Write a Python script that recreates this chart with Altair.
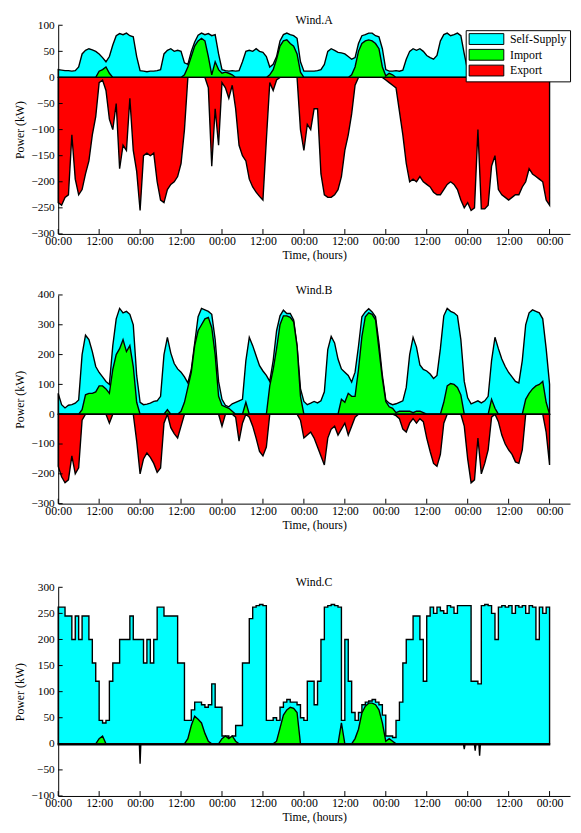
import altair as alt
import pandas as pd

# ---------------- data (hourly, 0..144 h) ----------------
hours = list(range(145))
tick_hours = list(range(0, 145, 12))
tick_labels = ["00:00", "12:00"]
series_names = ["Self-Supply", "Import", "Export"]
series_colors = ["#00FFFF", "#00FF00", "#FF0000"]

# Wind.A
a_load = ([15,14,13,13,12,13,20,45,52,55,53,50,45,38,30,40,62,80,84,82,85,80,78,40] +
          [13,12,11,12,12,13,15,45,52,55,50,52,50,28,25,50,68,81,85,82,84,80,82,45] +
          [15,13,12,13,12,13,30,50,52,50,55,50,48,40,20,25,40,70,82,85,82,80,75,30] +
          [12,12,12,12,13,15,25,50,55,52,48,47,45,40,35,38,65,80,82,85,85,80,78,55] +
          [15,12,12,13,12,14,35,50,55,52,55,50,42,38,35,42,70,82,85,80,82,85,80,45] +
          [13,13,12,12,12,13,30,50,52,55,50,48,42,38,40,70,82,85,80,82,78,60,30,15,12])
a_import = ([0,0,0,0,0,0,0,0,0,0,0,0,12,15,20,8,0,0,0,0,0,0,0,0] +
            [0,0,0,0,0,0,0,0,0,0,0,0,0,5,20,40,60,70,75,70,40,5,30,15] +
            [8,10,8,5,0,0,0,0,0,0,0,0,0,0,5,15,35,60,70,72,65,60,45,10] +
            [0,0,0,0,0,0,0,0,0,0,0,0,0,0,5,20,50,65,70,72,70,65,55,20] +
            [3,8,5,0,0,0,0,0,0,0,0,0,0,0,0,0,0,0,0,0,0,0,0,0] +
            [0,0,0,0,0,0,0,0,0,0,0,0,0,0,0,0,0,0,0,0,0,0,0,0,0])
a_export = ([-240,-245,-230,-225,-110,-195,-225,-215,-185,-160,-110,-75,-10,-5,-25,-80,-100,-50,-175,-130,-140,-40,-140,-180] +
            [-255,-150,-145,-150,-145,-200,-235,-240,-215,-205,-200,-190,-165,-100,0,0,0,0,0,0,-20,-170,-60,-130] +
            [-10,-20,-40,-15,-60,-130,-150,-160,-195,-210,-220,-228,-235,-120,-10,-25,-5,0,0,0,0,0,0,-100] +
            [-140,-90,-100,-60,-60,-185,-225,-230,-230,-225,-215,-190,-140,-110,-70,-15,0,0,0,0,0,0,0,0] +
            [-5,-10,-15,-20,-65,-110,-165,-200,-195,-200,-190,-200,-205,-210,-220,-225,-225,-215,-205,-200,-205,-215,-235,-250] +
            [-240,-255,-250,-100,-252,-252,-245,-170,-150,-215,-225,-230,-235,-230,-225,-225,-210,-200,-175,-185,-190,-195,-200,-235,-245])

# Wind.B
b_load = ([70,32,21,30,32,37,48,200,265,250,210,160,140,125,110,100,230,320,355,340,345,335,300,130] +
          [40,32,34,37,43,45,60,200,258,205,170,152,141,125,105,150,239,327,355,350,345,335,250,110] +
          [50,30,25,35,40,45,50,180,258,230,196,163,145,130,110,180,280,330,349,338,338,316,230,86] +
          [43,32,37,43,38,45,75,217,261,239,185,152,141,130,108,141,228,327,343,354,343,327,239,130] +
          [48,37,32,35,40,45,90,200,258,225,165,150,145,135,120,130,220,330,355,345,340,330,250,110] +
          [55,35,40,45,38,45,60,180,258,220,185,160,140,125,110,105,180,300,340,350,345,340,320,220,100])
b_import = ([0,0,0,0,0,0,0,15,65,70,70,75,95,95,85,70,150,200,220,250,210,230,160,40] +
            [0,0,0,0,0,0,0,0,15,0,0,0,10,40,90,140,230,280,300,320,325,290,200,60] +
            [30,25,20,10,0,0,0,40,0,0,0,0,0,0,95,150,220,300,330,330,325,310,228,60] +
            [0,0,0,0,0,0,0,0,0,0,0,50,40,70,60,60,150,260,327,340,335,316,217,119] +
            [43,25,20,5,10,10,10,10,5,10,10,5,0,0,0,0,0,40,95,103,100,90,65,0] +
            [0,0,0,0,0,0,0,50,20,0,0,0,0,0,0,0,0,50,70,85,95,100,110,40,0])
b_export = ([-175,-210,-230,-220,-140,-200,-180,-20,0,0,0,0,0,0,0,-30,0,0,0,0,0,0,0,-90] +
            [-200,-150,-130,-145,-165,-195,-180,-30,0,-45,-65,-80,-40,0,0,0,0,0,0,0,0,0,0,0] +
            [-40,0,0,0,-10,-90,-30,0,-10,-40,-80,-125,-140,-110,0,0,0,0,0,0,0,0,0,-20] +
            [-80,-70,-60,-80,-110,-140,-170,-80,-50,-40,-70,-50,-30,-70,-40,-10,0,0,0,0,0,0,0,0] +
            [0,0,0,-5,-15,-50,-60,-30,-15,-30,-15,-25,-80,-125,-165,-175,-135,-30,0,0,0,0,0,-40] +
            [-150,-230,-220,-80,-200,-165,-120,-10,0,-25,-70,-100,-120,-135,-160,-165,-120,0,0,0,0,0,0,-60,-170])

# Wind.C
c_supply = ([262,262,245,245,200,245,200,245,245,200,155,120,45,40,45,120,155,155,200,200,200,245,200,200] +
            [200,155,200,155,200,262,262,245,245,245,245,155,155,45,45,65,80,80,75,70,75,115,70,70] +
            [15,15,12,15,35,35,155,155,240,262,265,267,265,45,45,50,45,70,80,85,80,80,75,50] +
            [45,120,120,75,120,200,262,265,267,265,262,45,200,120,60,45,60,75,80,82,85,80,75,55] +
            [15,15,12,45,80,155,200,200,245,245,200,120,245,262,250,262,255,250,265,262,250,265,265,265] +
            [265,120,120,115,265,267,265,250,200,262,265,262,265,250,265,262,265,250,265,262,200,262,250,262,250])
c_import = ([0,0,0,0,0,0,0,0,0,0,0,0,10,15,0,0,0,0,0,0,0,0,0,0] +
            [0,0,0,0,0,0,0,0,0,0,0,0,0,0,10,35,53,47,40,20,5,0,0,0] +
            [10,15,10,15,5,0,0,0,0,0,0,0,0,0,0,0,5,30,55,65,70,68,60,0] +
            [0,0,0,0,0,0,0,0,0,0,0,40,0,0,0,10,28,59,72,78,78,75,65,40] +
            [5,10,5,0,0,0,0,0,0,0,0,0,0,0,0,0,0,0,0,0,0,0,0,0] +
            [0,0,0,0,0,0,0,0,0,0,0,0,0,0,0,0,0,0,0,0,0,0,0,0,0])
c_export_hours = [0, 23.8, 24.0, 24.2, 118.8, 119.0, 119.2, 122.0, 122.2, 122.4, 123.3, 123.5, 123.7, 144]
c_export_vals = [-2, -2, -38, -2, -2, -10, -2, -2, -13, -2, -2, -23, -2, -2]

a_yticks = list(range(-300, 101, 50))
b_yticks = list(range(-300, 401, 100))
c_yticks = list(range(-100, 301, 50))

FONT = "Liberation Serif"
W, H = 520, 212


def long_df(sup, imp, exp=None):
    parts = [pd.DataFrame({"hour": hours, "value": sup, "series": series_names[0]}),
             pd.DataFrame({"hour": hours, "value": imp, "series": series_names[1]})]
    if exp is not None:
        parts.append(pd.DataFrame({"hour": hours, "value": exp, "series": series_names[2]}))
    return pd.concat(parts, ignore_index=True)


xscale = alt.Scale(domain=[0, 150], nice=False, zero=False)
label_expr = f"datum.value % 24 == 0 ? '{tick_labels[0]}' : '{tick_labels[1]}'"
xaxis = alt.Axis(values=tick_hours, labelExpr=label_expr, ticks=False, grid=False,
                 labelPadding=2, titlePadding=3, labelFlush=False, labelOverlap=False,
                 labelFont=FONT, titleFont=FONT, labelFontSize=12, titleFontSize=12,
                 titleFontWeight="normal", labelColor="black", titleColor="black",
                 domainColor="black", domainWidth=1, zindex=1)


def xenc():
    return alt.X("hour:Q", scale=xscale, axis=xaxis, title="Time, (hours)")


def yenc(dom, ticks):
    return alt.Y("value:Q", scale=alt.Scale(domain=dom, nice=False, zero=False),
                 axis=alt.Axis(values=ticks, ticks=False, grid=False, labelPadding=4,
                               titlePadding=5, labelFontSize=11.5, titleFontSize=12,
                               labelFont=FONT, titleFont=FONT, titleFontWeight="normal",
                               labelColor="black", titleColor="black",
                               domainColor="black", domainWidth=1, zindex=1),
                 title="Power (kW)")


cscale = alt.Scale(domain=series_names, range=series_colors)


def panel(df, title, dom, ticks, legend, sup_interp="linear", export_df=None):
    layers = []
    for s in series_names:
        src = df if (s != "Export" or export_df is None) else export_df
        interp = sup_interp if s == "Self-Supply" else "linear"
        layers.append(
            alt.Chart(src).transform_filter(alt.datum.series == s)
            .mark_area(interpolate=interp, stroke="black", strokeWidth=1.4, opacity=1)
            .encode(x=xenc(), y=yenc(dom, ticks),
                    color=alt.Color("series:N", scale=cscale, legend=legend))
        )
    xt = alt.Chart(pd.DataFrame({"hour": tick_hours})).mark_rule(color="black", strokeWidth=1).encode(
        x=xenc(), y=alt.value(H), y2=alt.value(H - 5))
    yt = alt.Chart(pd.DataFrame({"value": ticks})).mark_rule(color="black", strokeWidth=1).encode(
        y=yenc(dom, ticks), x=alt.value(0), x2=alt.value(4.5))
    layers += [xt, yt]
    ttl = alt.TitleParams(title, font=FONT, fontSize=12, fontWeight="normal", color="black", offset=-8)
    return alt.layer(*layers).properties(width=W, height=H, title=ttl)


legendA = alt.Legend(title=None, orient="none", legendX=414, legendY=5,
                     symbolType="M-1,-1L5.4,-1L5.4,1L-1,1Z", symbolSize=121,
                     symbolStrokeColor="black", symbolStrokeWidth=1, symbolOpacity=1,
                     labelFont=FONT, labelFontSize=12, labelColor="black", labelOffset=30,
                     padding=3, rowPadding=0, strokeColor="black", fillColor="white")

dfA = long_df(a_load, a_import, a_export)
dfB = long_df(b_load, b_import, b_export)
dfC = long_df(c_supply, c_import)
dfCexp = pd.DataFrame({"hour": c_export_hours, "value": c_export_vals, "series": "Export"})

pA = panel(dfA, "Wind.A", [-300, 100], a_yticks, legendA)
pB = panel(dfB, "Wind.B", [-300, 400], b_yticks, None)
pC = panel(dfC, "Wind.C", [-100, 300], c_yticks, None, sup_interp="step-after", export_df=dfCexp)

top = alt.vconcat(pA, pB, spacing=24).resolve_scale(color="independent").resolve_legend(color="independent")
chart = (alt.vconcat(top, pC, spacing=47)
         .resolve_scale(color="independent").resolve_legend(color="independent")
         .properties(padding={"left": 5, "right": 2, "top": 0, "bottom": 0}, background="white")
         .configure_view(stroke=None))

chart.save("out.html", embed_options={"renderer": "svg", "actions": False})
